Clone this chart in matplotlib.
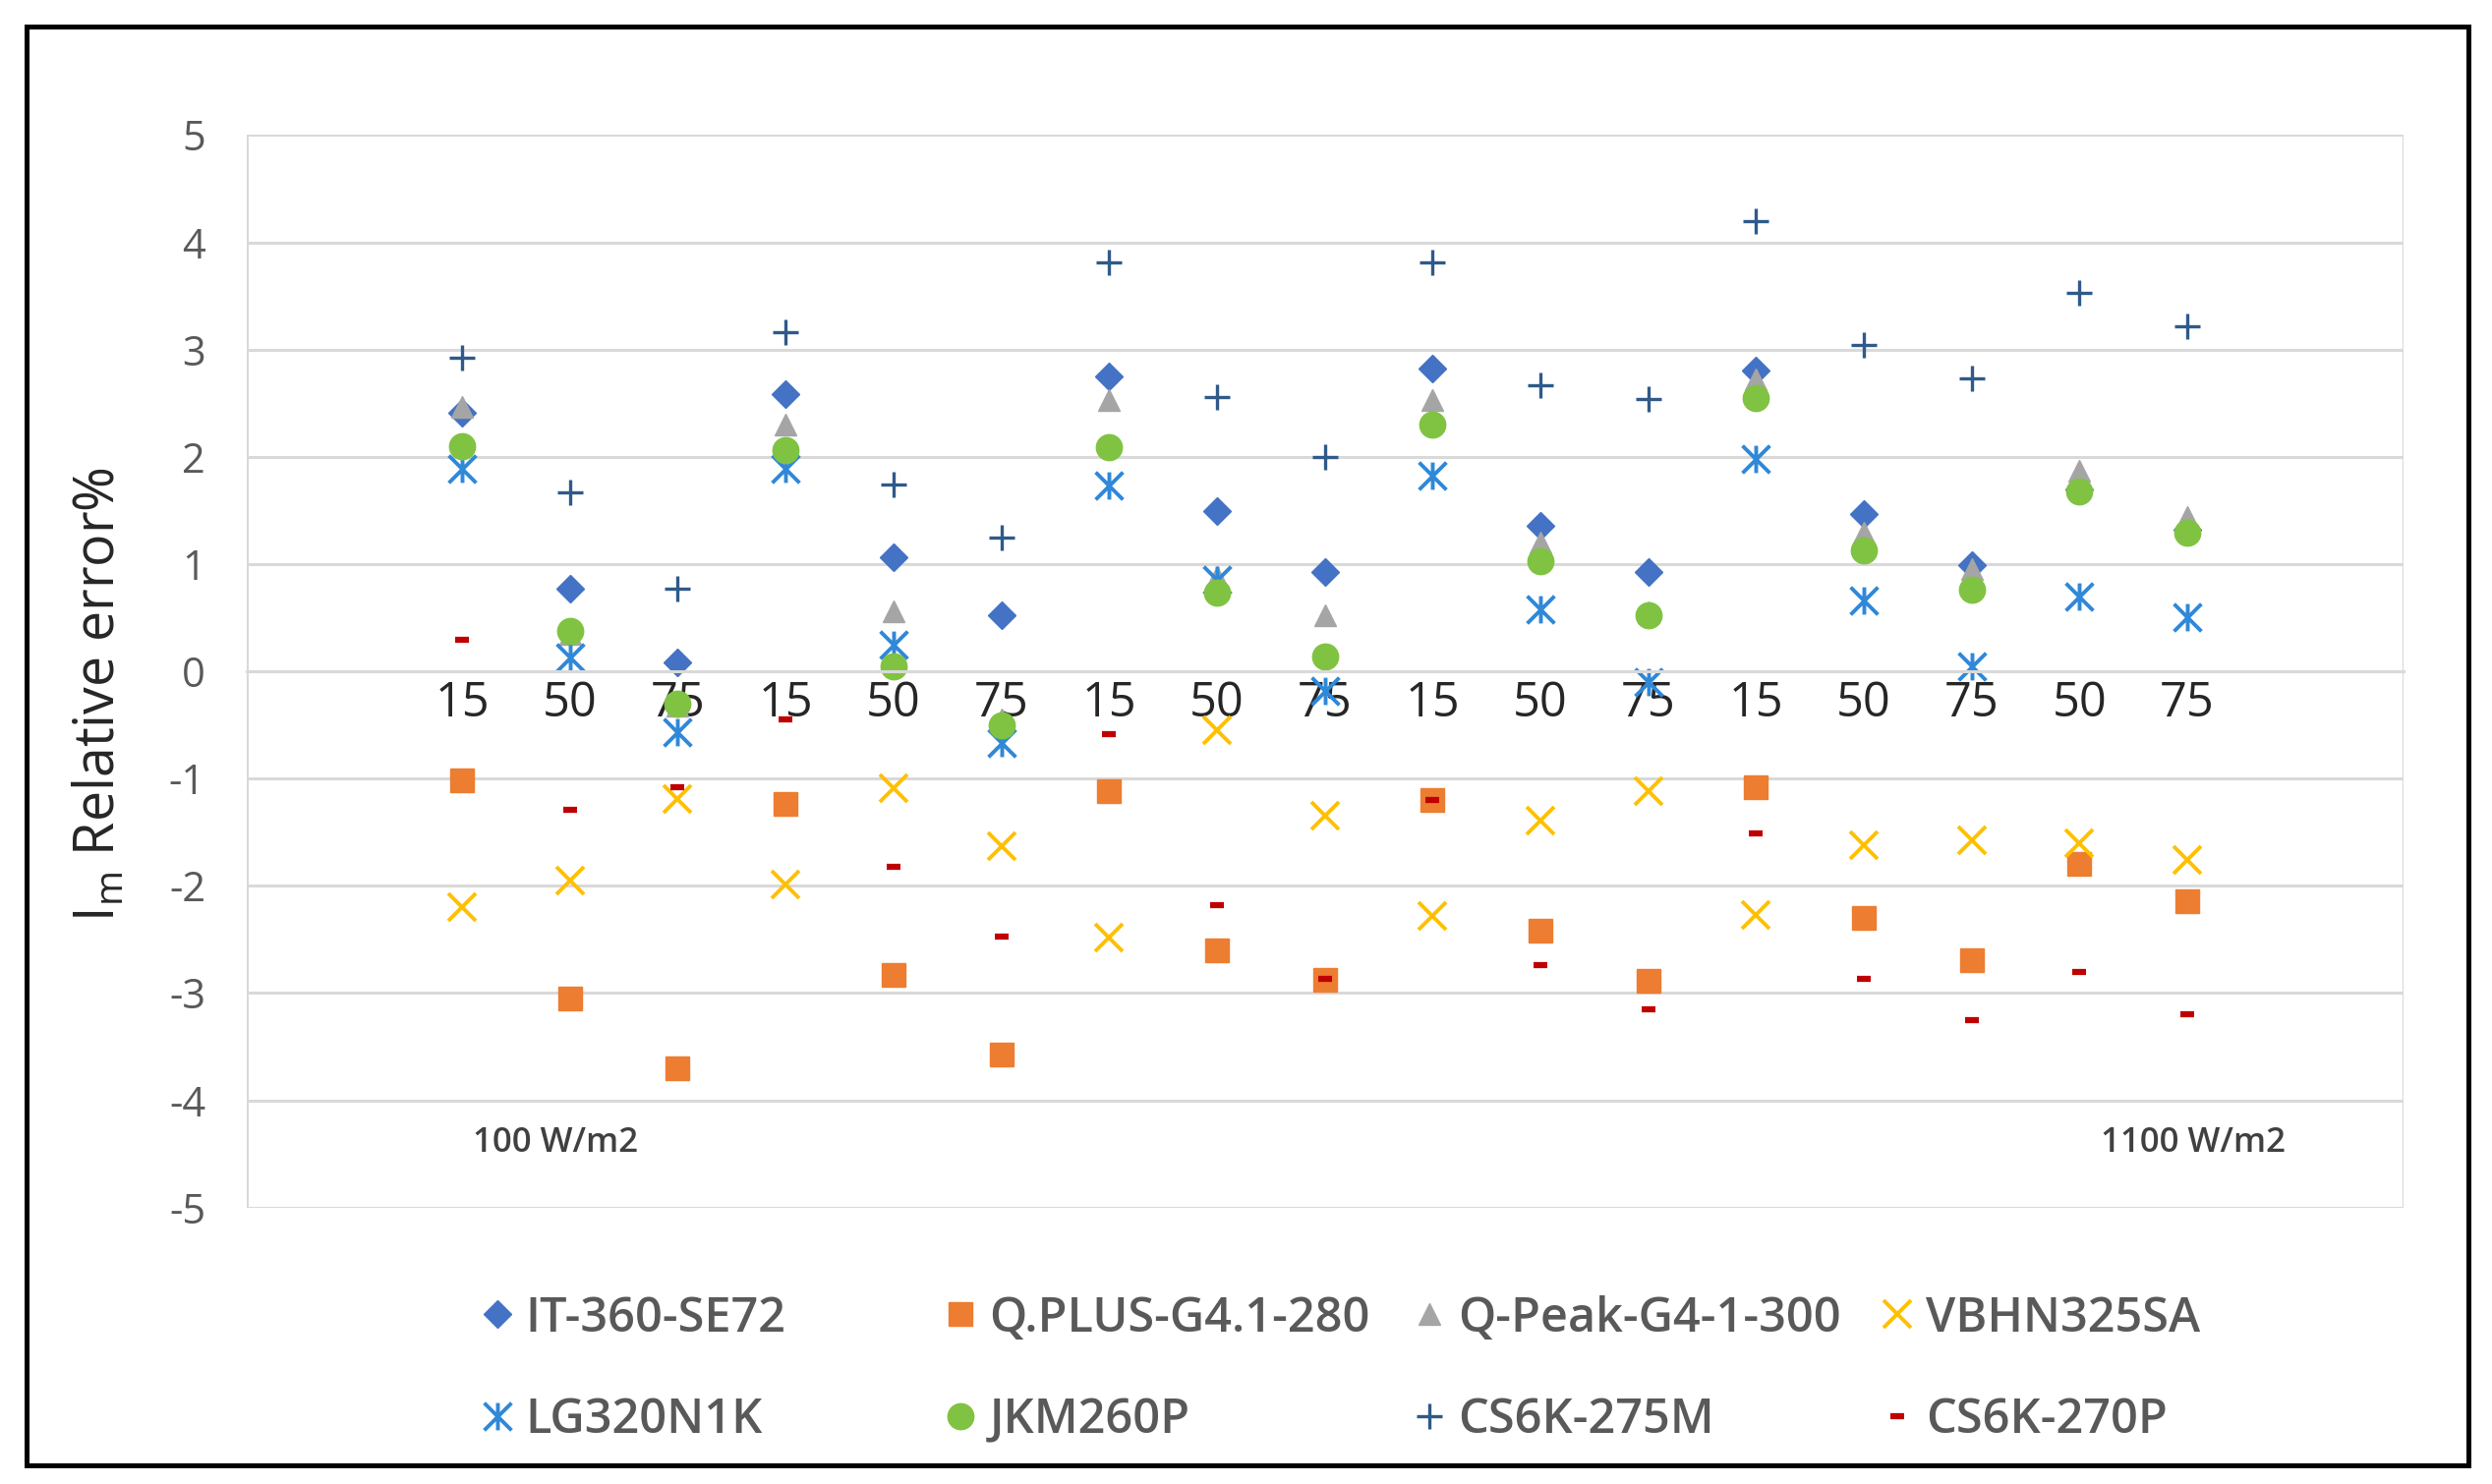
import numpy as np
import matplotlib
matplotlib.use("Agg")
import matplotlib.pyplot as plt
from matplotlib.path import Path
from matplotlib.patches import Rectangle

plt.rcParams["font.family"] = ["Open Sans", "DejaVu Sans"]
plt.rcParams["axes.unicode_minus"] = False
plt.rcParams["mathtext.fontset"] = "custom"
plt.rcParams["mathtext.rm"] = "Open Sans"
plt.rcParams["mathtext.default"] = "regular"

# tilt angle labels along the x axis (one per measurement)
TILT_LABELS = ["15", "50", "75", "15", "50", "75", "15", "50", "75",
               "15", "50", "75", "15", "50", "75", "50", "75"]

# relative error (%), one value per tilt label
IT_360_SE72 = [2.41, 0.77, 0.08, 2.58, 1.06, 0.52, 2.75, 1.49, 0.93,
               2.82, 1.36, 0.93, 2.80, 1.47, 0.99, 1.70, 1.32]
Q_PLUS_G41_280 = [-1.02, -3.05, -3.70, -1.24, -2.83, -3.57, -1.12, -2.60, -2.88,
                  -1.20, -2.42, -2.89, -1.08, -2.30, -2.69, -1.80, -2.14]
Q_PEAK_G4_300 = [2.47, 0.35, -0.32, 2.30, 0.56, -0.45, 2.53, 0.88, 0.52,
                 2.53, 1.20, 0.55, 2.72, 1.29, 0.95, 1.87, 1.44]
VBHN325SA = [-2.20, -1.95, -1.19, -1.99, -1.09, -1.63, -2.48, -0.55, -1.35,
             -2.28, -1.39, -1.12, -2.27, -1.62, -1.58, -1.60, -1.76]
LG320N1K = [1.89, 0.13, -0.57, 1.89, 0.25, -0.67, 1.73, 0.85, -0.18,
            1.82, 0.58, -0.10, 1.98, 0.66, 0.05, 0.70, 0.50]
JKM260P = [2.10, 0.38, -0.30, 2.06, 0.05, -0.50, 2.09, 0.73, 0.14,
           2.30, 1.03, 0.52, 2.55, 1.13, 0.76, 1.68, 1.29]
CS6K_275M = [2.92, 1.67, 0.77, 3.16, 1.74, 1.25, 3.81, 2.56, 2.00,
             3.81, 2.67, 2.54, 4.20, 3.04, 2.73, 3.53, 3.22]
CS6K_270P = [0.29, -1.29, -1.08, -0.45, -1.82, -2.47, -0.59, -2.18, -2.87,
             -1.20, -2.74, -3.15, -1.51, -2.87, -3.25, -2.80, -3.20]

# Excel-like "star" marker: an X with a vertical bar
STAR = Path([(-1, -1), (1, 1), (-1, 1), (1, -1), (0, -1), (0, 1)],
            [Path.MOVETO, Path.LINETO, Path.MOVETO, Path.LINETO,
             Path.MOVETO, Path.LINETO])

SERIES = [
    ("IT-360-SE72", IT_360_SE72, dict(marker="D", ms=14, color="#4472C4")),
    ("Q.PLUS-G4.1-280", Q_PLUS_G41_280, dict(marker="s", ms=17, color="#ED7D31")),
    ("Q-Peak-G4-1-300", Q_PEAK_G4_300, dict(marker="^", ms=16, color="#A5A5A5")),
    ("VBHN325SA", VBHN325SA, dict(marker="x", ms=20, mew=2.8, color="#FFC000")),
    ("LG320N1K", LG320N1K, dict(marker=STAR, ms=20, mew=2.8, color="#2F88D8")),
    ("JKM260P", JKM260P, dict(marker="o", ms=19, color="#80C342")),
    ("CS6K-275M", CS6K_275M, dict(marker="+", ms=19, mew=2.4, color="#2F5A8A")),
    ("CS6K-270P", CS6K_270P, dict(marker="_", ms=9.5, mew=4.5, color="#C00000")),
]

fig = plt.figure(figsize=(25.35, 15.10), dpi=100)
ax = fig.add_axes([0.0989, 0.1863, 0.9643 - 0.0989, 0.909 - 0.1863])

xpos = np.arange(2, 2 + len(TILT_LABELS))
handles = []
for name, vals, style in SERIES:
    h, = ax.plot(xpos, vals, linestyle="none", label=name, **style)
    handles.append(h)

ax.set_xlim(0, 20)
ax.set_ylim(-5, 5)
ax.set_yticks(np.arange(-5, 6, 1))
ax.set_yticklabels([str(v) for v in range(-5, 6)])
ax.set_xticks(np.arange(0, 21, 2), minor=True)
ax.set_xticks(xpos)
ax.set_xticklabels(TILT_LABELS, fontweight="semibold")

ax.grid(True, which="major", axis="y", color="#d9d9d9", lw=2.2)
ax.grid(True, which="minor", axis="x", color="#d9d9d9", lw=2.2)
ax.set_axisbelow(True)
for side in ("top", "left", "right"):
    ax.spines[side].set_visible(False)
ax.spines["bottom"].set_position(("data", 0))
ax.spines["bottom"].set_color("#d9d9d9")
ax.spines["bottom"].set_linewidth(2.2)
ax.tick_params(axis="x", which="both", length=0, pad=6, labelsize=35,
               labelcolor="#262626")
ax.tick_params(axis="y", length=0, pad=30, labelsize=30, labelcolor="#595959")

ax.text(2.87, -4.4, "100 W/m2", ha="center", va="center", fontsize=25,
        color="#404040", fontweight="semibold")
ax.text(18.05, -4.4, "1100 W/m2", ha="center", va="center", fontsize=25,
        color="#404040", fontweight="semibold")

fig.text(0.04, 0.532, r"I$_m$ Relative error%", rotation=90, ha="center",
         va="center", fontsize=40, color="#262626")

# legend: 4 columns of 2 rows, laid out like the Excel legend
col_x = [0.199, 0.385, 0.573, 0.761]
for c, x in enumerate(col_x):
    leg = fig.legend([handles[c], handles[c + 4]],
                     [SERIES[c][0], SERIES[c + 4][0]],
                     loc="center left", bbox_to_anchor=(x - 0.0072, 0.077),
                     frameon=False, handlelength=0.8,
                     prop={"size": 35, "weight": "semibold"},
                     handletextpad=0.2, labelspacing=1.12, borderpad=0,
                     borderaxespad=0, labelcolor="#595959")

fig.add_artist(Rectangle((0.0108, 0.0128), 0.9904 - 0.0108, 0.9818 - 0.0128,
                         transform=fig.transFigure, fill=False, lw=3.6,
                         ec="black"))

fig.savefig("out.png", dpi=100)
